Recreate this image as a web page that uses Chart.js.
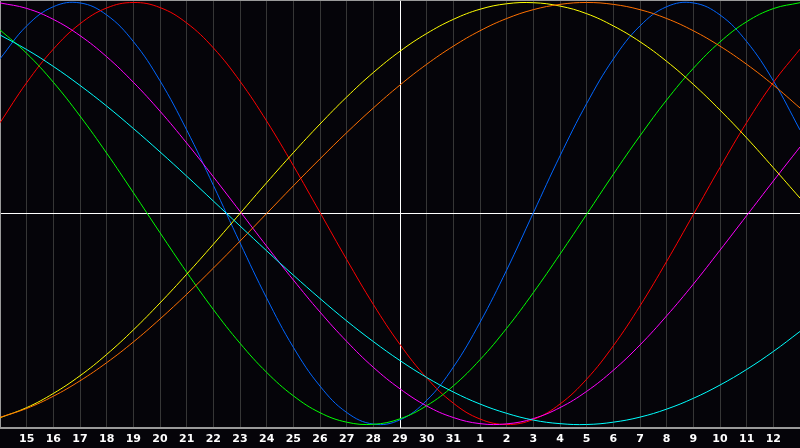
<!DOCTYPE html>
<html>
<head>
<meta charset="utf-8">
<script src="https://cdn.jsdelivr.net/npm/chart.js@4.4.0/dist/chart.umd.min.js"></script>
<style>
  html, body { margin: 0; padding: 0; background: #050409; }
  canvas { display: block; background: #050409; }
</style>
</head>
<body>
<canvas id="bio" width="800" height="448"></canvas>
<script>
// day labels along the bottom (first and last one are not printed)
const days = ['14','15','16','17','18','19','20','21','22','23','24','25','26','27','28','29','30','31',
              '1','2','3','4','5','6','7','8','9','10','11','12','13'];
const today = '29';

// one value per day
const physical     = [0.733,0.889,0.980,0.998,0.941,0.815,0.629,0.396,0.134,-0.139,-0.401,-0.634,-0.818,-0.943,-0.998,-0.978,-0.886,-0.728,-0.516,-0.268,0.003,0.273,0.521,0.732,0.889,0.980,0.998,0.941,0.815,0.629,0.396];
const emotional    = [0.430,0.620,0.779,0.899,0.974,1.000,0.976,0.903,0.785,0.627,0.438,0.227,0.005,-0.218,-0.431,-0.621,-0.779,-0.899,-0.974,-1.000,-0.976,-0.903,-0.785,-0.627,-0.438,-0.227,-0.005,0.218,0.431,0.621,0.779];
const intellectual = [0.870,0.759,0.622,0.462,0.286,0.099,-0.091,-0.278,-0.455,-0.615,-0.753,-0.864,-0.944,-0.989,-0.999,-0.973,-0.911,-0.817,-0.693,-0.544,-0.375,-0.193,-0.004,0.186,0.368,0.538,0.688,0.813,0.909,0.971,0.999];
const intuitive    = [0.998,0.972,0.920,0.843,0.743,0.622,0.485,0.334,0.174,0.010,-0.155,-0.315,-0.467,-0.606,-0.729,-0.831,-0.912,-0.967,-0.996,-0.997,-0.972,-0.920,-0.843,-0.743,-0.623,-0.485,-0.335,-0.174,-0.010,0.154,0.315];
const aesthetic    = [-0.968,-0.920,-0.853,-0.769,-0.668,-0.552,-0.424,-0.288,-0.146,0.000,0.146,0.288,0.424,0.552,0.668,0.769,0.853,0.920,0.968,0.994,0.999,0.983,0.947,0.889,0.814,0.721,0.612,0.490,0.358,0.217,0.073];
const awareness    = [-0.966,-0.924,-0.866,-0.793,-0.707,-0.609,-0.500,-0.383,-0.259,-0.131,0.000,0.131,0.259,0.383,0.500,0.609,0.707,0.793,0.866,0.924,0.966,0.991,1.000,0.991,0.966,0.924,0.866,0.793,0.707,0.609,0.500];
const spiritual    = [0.846,0.777,0.697,0.607,0.509,0.403,0.292,0.177,0.059,-0.059,-0.177,-0.292,-0.403,-0.509,-0.607,-0.697,-0.777,-0.846,-0.903,-0.947,-0.979,-0.996,-1.000,-0.989,-0.965,-0.927,-0.876,-0.813,-0.739,-0.654,-0.559];

function line(label, data, color) {
  return {
    label: label,
    data: data,
    borderColor: color,
    borderWidth: 1,
    pointRadius: 0,
    fill: false,
    tension: 0.4
  };
}

// frame and the two white "today / zero" lines
const framePlugin = {
  id: 'frame',
  beforeDatasetsDraw(chart) {
    const ctx = chart.ctx;
    const area = chart.chartArea;
    const x = Math.round(chart.scales.x.getPixelForValue(days.indexOf(today))) + 0.5;
    const y = Math.round(chart.scales.y.getPixelForValue(0)) + 0.5;
    ctx.save();
    ctx.lineWidth = 1;
    ctx.strokeStyle = '#ffffff';
    ctx.beginPath();
    ctx.moveTo(x, area.top);
    ctx.lineTo(x, area.bottom);
    ctx.moveTo(area.left, y);
    ctx.lineTo(area.right, y);
    ctx.stroke();
    ctx.strokeStyle = '#9a9a9a';
    ctx.beginPath();
    ctx.moveTo(area.left + 0.5, area.bottom);
    ctx.lineTo(area.left + 0.5, area.top + 0.5);
    ctx.lineTo(area.right, area.top + 0.5);
    ctx.stroke();
    ctx.restore();
  }
};

new Chart(document.getElementById('bio'), {
  type: 'line',
  data: {
    labels: days,
    datasets: [
      line('Spiritual', spiritual, '#00ffff'),
      line('Awareness', awareness, '#ff7000'),
      line('Aesthetic', aesthetic, '#ffff00'),
      line('Intuitive', intuitive, '#ff00ff'),
      line('Intellectual', intellectual, '#00ff00'),
      line('Emotional', emotional, '#ff0000'),
      line('Physical', physical, '#0066ff')
    ]
  },
  options: {
    responsive: false,
    animation: false,
    devicePixelRatio: 1,
    layout: { autoPadding: false, padding: 0 },
    plugins: {
      legend: { display: false },
      tooltip: { enabled: false }
    },
    scales: {
      x: {
        type: 'category',
        offset: false,
        afterFit: function (scale) { scale.height = 20; },
        grid: {
          color: '#363636',
          lineWidth: 1,
          drawTicks: true,
          tickLength: 5,
          tickColor: 'rgba(0,0,0,0)'
        },
        border: { display: true, color: '#9a9a9a', width: 2 },
        ticks: {
          color: '#ffffff',
          padding: 0,
          autoSkip: false,
          maxRotation: 0,
          font: { family: 'DejaVu Sans', size: 11, weight: 'bold' },
          callback: function (value, index) {
            if (index === 0 || index === days.length - 1) return '';
            return days[index];
          }
        }
      },
      y: {
        display: false,
        min: -1.0166,
        max: 1.0118
      }
    }
  },
  plugins: [framePlugin]
});
</script>
</body>
</html>
